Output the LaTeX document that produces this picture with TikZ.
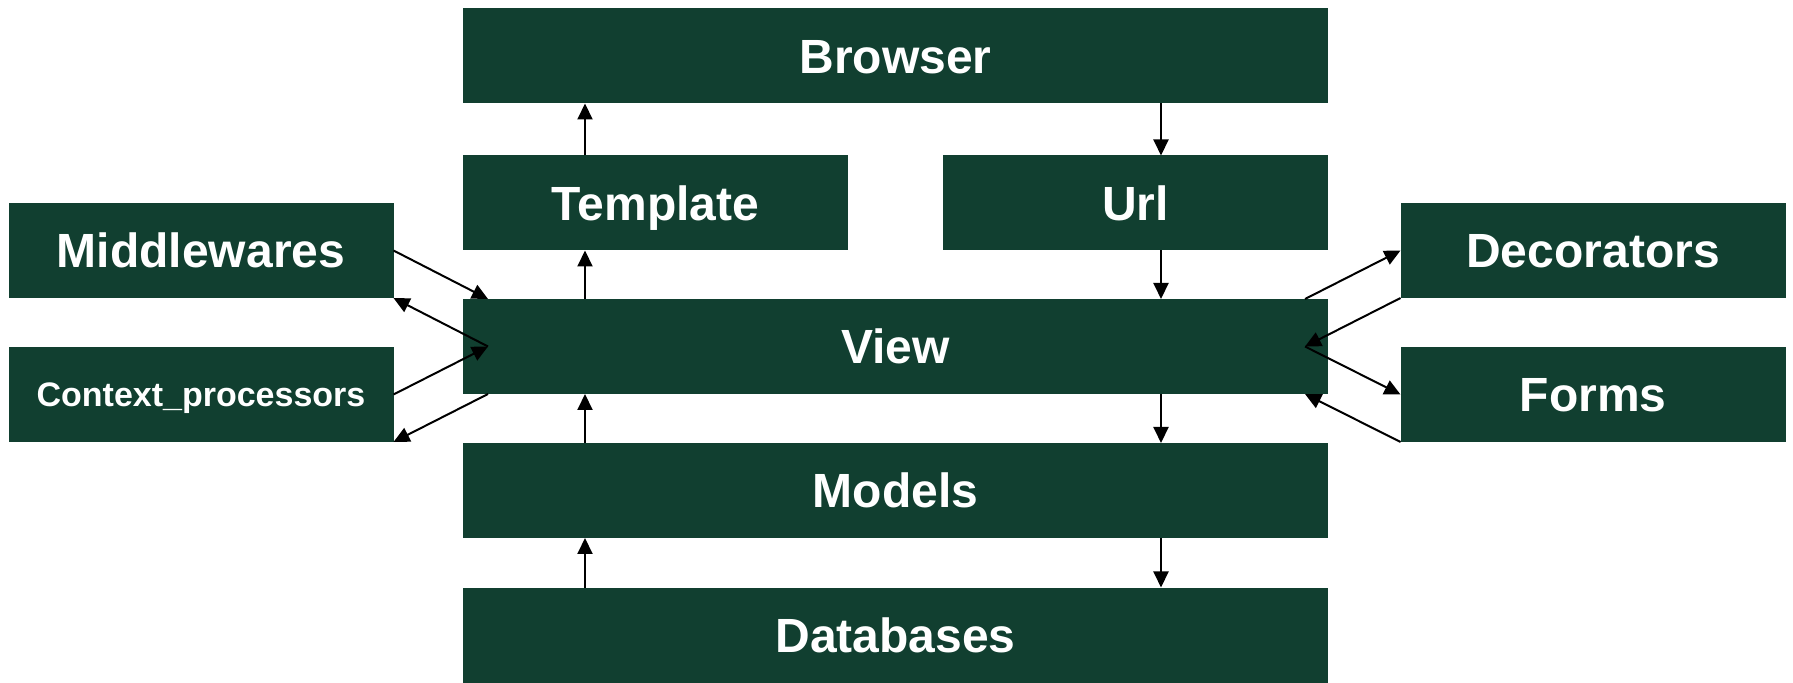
\documentclass[tikz,border=0pt]{standalone}
\usepackage{fontspec}
\setmainfont{Liberation Sans}
\usetikzlibrary{arrows.meta}
\definecolor{djgreen}{HTML}{113F30}
\tikzset{
  blk/.style={fill=djgreen, text=white, font=\bfseries\fontsize{24}{28}\selectfont,
    inner sep=0pt, outer sep=0pt, minimum height=47.5pt, text height=17.2pt, text depth=0pt},
  wide/.style={blk, minimum width=432.5pt},
  small/.style={blk, minimum width=192.5pt},
  arr/.style={-{Triangle[length=8pt,width=7.5pt]}, line width=1pt}
}
\begin{document}
\begin{tikzpicture}[x=0.5pt,y=-0.5pt]
      \useasboundingbox (0,0) rectangle (1793,683);
      \node[wide] (browser) at (895.5,56){Browser};
      \node[small] (template) at (655.5,203){Template};
      \node[small] (url) at (1135.5,203){Url};
      \node[small] (mid) at (201,250.5){Middlewares};
      \node[small, font=\bfseries\fontsize{17}{20}\selectfont, text height=12.2pt] (ctx) at (201,394.5){Context\_processors};
      \node[wide] (view) at (895.5,346.5){View};
      \node[small] (deco) at (1593,250.5){Decorators};
      \node[small] (forms) at (1593,394.5){Forms};
      \node[wide] (models) at (895.5,490.5){Models};
      \node[wide] (db) at (895.5,635){Databases};

      \coordinate (l) at (585,0);
      \coordinate (r) at (1161,0);
      \coordinate (vl) at (488,0);
      \coordinate (vr) at (1305,0);

      % up the left column, down the right one
      \draw[arr] (template.north -| l) -- (browser.south -| l);
      \draw[arr] (view.north -| l) -- (template.south -| l);
      \draw[arr] (models.north -| l) -- (view.south -| l);
      \draw[arr] (db.north -| l) -- (models.south -| l);
      \draw[arr] (browser.south -| r) -- (url.north -| r);
      \draw[arr] (url.south -| r) -- (view.north -| r);
      \draw[arr] (view.south -| r) -- (models.north -| r);
      \draw[arr] (models.south -| r) -- (db.north -| r);

      \draw[arr] (mid.east) -- (view.north -| vl);
      \draw[arr] (view.west -| vl) -- (mid.south east);
      \draw[arr] (ctx.east) -- (view.west -| vl);
      \draw[arr] (view.south -| vl) -- (ctx.south east);

      \draw[arr] (view.north -| vr) -- (deco.west);
      \draw[arr] (deco.south west) -- (view.east -| vr);
      \draw[arr] (view.east -| vr) -- (forms.west);
      \draw[arr] (forms.south west) -- (view.south -| vr);
    \end{tikzpicture}
\end{document}
